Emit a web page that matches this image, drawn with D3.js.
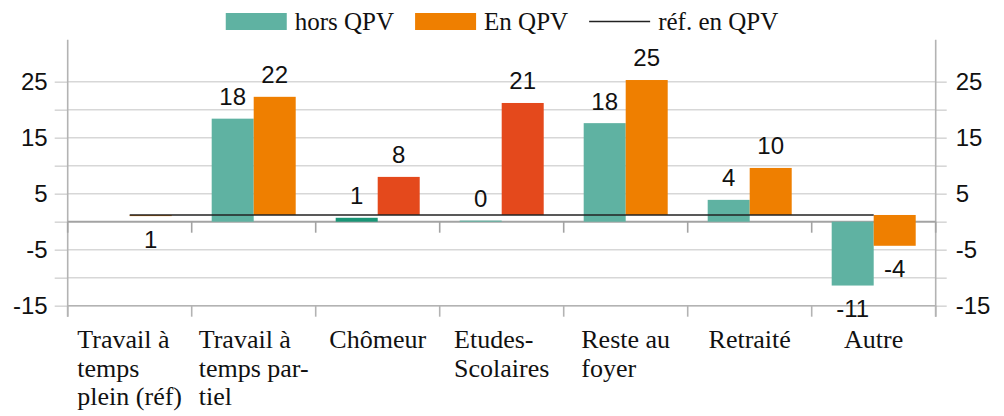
<!DOCTYPE html>
<html>
<head>
<meta charset="utf-8">
<script src="https://cdn.jsdelivr.net/npm/d3@7"></script>
<style>
  html, body { margin: 0; padding: 0; background: #fff; }
  svg { display: block; }
</style>
</head>
<body>
<svg id="chart" width="1004" height="416"></svg>
<script>
// ---------- data ----------
const categories = ["Travail à temps plein (réf)", "Travail à temps partiel", "Chômeur", "Etudes-Scolaires", "Reste au foyer", "Retraité", "Autre"];
const categoryLines = [["Travail à", "temps", "plein (réf)"], ["Travail à", "temps par-", "tiel"], ["Chômeur"], ["Etudes-", "Scolaires"], ["Reste au", "foyer"], ["Retraité"], ["Autre"]];
const horsQPV = [null, 18.4, 0.7, 0.2, 17.6, 3.9, -11.4];
const enQPV = [1.0, 22.3, 8.0, 21.2, 25.3, 9.6, -4.3];
const refEnQPV = [1.2, 1.2, 1.2, 1.2, 1.2, 1.2, 1.2];
const horsHighlight = [false, false, true, false, false, false, false];
const enHighlight = [false, false, true, true, false, false, false];
const seriesNames = ["hors QPV", "En QPV", "réf. en QPV"];
const yLabelTicks = [-15, -5, 5, 15, 25];
const yGridTicks = [-15, -10, -5, 0, 5, 10, 15, 20, 25];

// ---------- style ----------
const C = {
  teal: "#5fb2a2", tealDark: "#199576", orange: "#ef7f00", red: "#e4491c",
  grid: "#d7d7d7", axis: "#b3b3b3", zero: "#a3a3a3", ref: "#222", text: "#111"
};
const sans = "'Liberation Sans', Arial, sans-serif";
const serif = "'Liberation Serif', 'Times New Roman', serif";
const loc = d3.formatLocale({ decimal: ".", thousands: ",", grouping: [3], currency: ["", ""], minus: "-" });
const fmtInt = loc.format("d");
const fmt = loc.format(".0f");

const svg = d3.select("#chart");
const left = 67.7, right = 935.7;
const x = d3.scaleBand().domain(categories).range([left, right]).paddingInner(0).paddingOuter(0);
const x1 = d3.scaleBand().domain(["hors", "en"]).range([0, x.bandwidth()]).paddingInner(0).paddingOuter(0.476);
const y = d3.scaleLinear().domain([-15, 25]).range([305.7, 81.7]);
const axisTop = y(32.5);

// gridlines
svg.append("g").selectAll("line").data(yGridTicks.filter(v => v !== 0)).join("line")
  .attr("x1", left).attr("x2", right)
  .attr("y1", d => y(d)).attr("y2", d => y(d))
  .attr("stroke", C.grid).attr("stroke-width", 1.6);

// vertical axes
const yAxisL = d3.axisLeft(y).tickValues(yGridTicks)
  .tickFormat(v => yLabelTicks.includes(v) ? fmtInt(v) : "")
  .tickSize(13).tickPadding(7);
const gL = svg.append("g").attr("transform", `translate(${left},0)`).call(yAxisL);
const yAxisR = d3.axisRight(y).tickValues(yGridTicks)
  .tickFormat(v => yLabelTicks.includes(v) ? fmtInt(v) : "")
  .tickSize(11).tickPadding(9);
const gR = svg.append("g").attr("transform", `translate(${right},0)`).call(yAxisR);
[gL, gR].forEach(g => {
  g.select(".domain").remove();
  g.selectAll(".tick line").attr("stroke", C.grid).attr("stroke-width", 1.6);
  g.selectAll(".tick text").attr("font-family", sans).attr("font-size", 24).attr("fill", C.text);
  g.append("line").attr("x1", 0).attr("x2", 0).attr("y1", axisTop).attr("y2", y(-15) + 11)
    .attr("stroke", C.axis).attr("stroke-width", 1.6);
});

// category boundaries
const bounds = categories.map(c => x(c)).concat([x.range()[1]]);
// zero axis
svg.append("line").attr("x1", left).attr("x2", right).attr("y1", y(0)).attr("y2", y(0))
  .attr("stroke", C.zero).attr("stroke-width", 2);
svg.append("g").selectAll("line").data(bounds).join("line")
  .attr("x1", d => d).attr("x2", d => d).attr("y1", y(0)).attr("y2", y(0) + 11)
  .attr("stroke", C.zero).attr("stroke-width", 1.6);
// bottom axis
svg.append("line").attr("x1", left).attr("x2", right).attr("y1", y(-15)).attr("y2", y(-15))
  .attr("stroke", C.axis).attr("stroke-width", 1.6);
svg.append("g").selectAll("line").data(bounds).join("line")
  .attr("x1", d => d).attr("x2", d => d).attr("y1", y(-15)).attr("y2", y(-15) + 11)
  .attr("stroke", C.axis).attr("stroke-width", 1.6);

// bars
const rows = categories.map((c, i) => ({ c, i, hors: horsQPV[i], en: enQPV[i], ref: refEnQPV[i] }));
const gb = svg.append("g");
gb.selectAll("rect.hors").data(rows.filter(d => d.hors !== null)).join("rect").attr("class", "hors")
  .attr("x", d => x(d.c) + x1("hors")).attr("width", x1.bandwidth())
  .attr("y", d => Math.min(y(d.hors), y(0))).attr("height", d => Math.abs(y(d.hors) - y(0)))
  .attr("fill", d => horsHighlight[d.i] ? C.tealDark : C.teal);
gb.selectAll("rect.en").data(rows).join("rect").attr("class", "en")
  .attr("x", d => x(d.c) + x1("en")).attr("width", x1.bandwidth())
  .attr("y", d => Math.min(y(d.en), y(d.ref))).attr("height", d => Math.abs(y(d.en) - y(d.ref)))
  .attr("fill", d => enHighlight[d.i] ? C.red : C.orange);

// reference line
const line = d3.line().x(d => x(d.c) + x.bandwidth() / 2).y(d => y(d.ref));
svg.append("path").datum(rows).attr("d", line).attr("fill", "none")
  .attr("stroke", C.ref).attr("stroke-width", 1.3);

// data labels
const lab = [];
rows.forEach(d => {
  if (d.hors !== null) lab.push({ cx: x(d.c) + x1("hors") + x1.bandwidth() / 2, v: d.hors, up: d.hors >= 0 });
  lab.push({ cx: x(d.c) + x1("en") + x1.bandwidth() / 2, v: d.en, up: d.en >= d.ref });
});
svg.append("g").selectAll("text").data(lab).join("text")
  .attr("x", d => d.cx)
  .attr("y", d => d.up ? y(d.v) - 22 : y(d.v) + 23)
  .attr("dy", "0.35em").attr("text-anchor", "middle")
  .attr("font-family", sans).attr("font-size", 24).attr("fill", C.text)
  .text(d => fmt(d.v));

// category labels
const gc = svg.append("g");
categories.forEach((c, i) => {
  const t = gc.append("text").attr("font-family", serif).attr("font-size", 26).attr("fill", C.text);
  categoryLines[i].forEach((ln, k) => {
    t.append("tspan").attr("y", 348.3 + k * 28.3).text(ln);
  });
  const w = d3.max(t.selectAll("tspan").nodes(), n => n.getComputedTextLength());
  const x0 = x(c) + x.bandwidth() / 2 - w / 2;
  t.selectAll("tspan").attr("x", x0);
});

// legend
const lg = svg.append("g");
let lx = 0;
const legendItems = [
  { name: seriesNames[0], type: "rect", color: C.teal },
  { name: seriesNames[1], type: "rect", color: C.orange },
  { name: seriesNames[2], type: "line", color: C.ref }
];
legendItems.forEach(it => {
  if (it.type === "rect") {
    lg.append("rect").attr("x", lx).attr("y", 13).attr("width", 61).attr("height", 17).attr("fill", it.color);
  } else {
    lg.append("line").attr("x1", lx).attr("x2", lx + 61).attr("y1", 21.5).attr("y2", 21.5)
      .attr("stroke", it.color).attr("stroke-width", 1.3);
  }
  lx += 69;
  const t = lg.append("text").attr("x", lx).attr("y", 29.5).attr("font-family", serif)
    .attr("font-size", 25).attr("fill", C.text).text(it.name);
  lx += t.node().getComputedTextLength() + 21;
});
const lw = lx - 21;
lg.attr("transform", `translate(${502 - lw / 2},0)`);
</script>
</body>
</html>
